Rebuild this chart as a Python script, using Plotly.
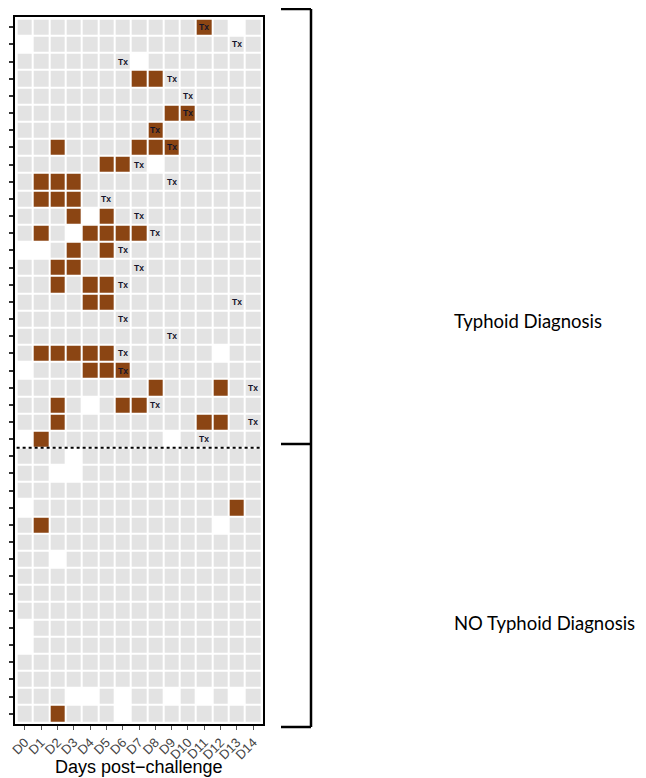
import numpy as np
import plotly.graph_objects as go

days = [f"D{i}" for i in range(15)]

# g = negative (grey), b = positive (brown), w = missing (white)
typhoid_rows = [
    "gggggggggggbgwg",
    "wgggggggggggggg",
    "gggggggwggggggg",
    "gggggggbbgggggg",
    "ggggggggggggggg",
    "gggggggggbbgggg",
    "ggggggggbgggggg",
    "ggbggggbbbggggg",
    "gggggbbgwgggggg",
    "gbbbggggggggggg",
    "gbbbggggggggggg",
    "gggbwbggggggggg",
    "gbgwbbbbggggggg",
    "wwgbgbggggggggg",
    "ggbbggggggggggg",
    "ggbgbbggggggggg",
    "ggggbbggggggggg",
    "ggggggggggggggg",
    "ggggggggggggggg",
    "gbbbbbggggggwgg",
    "wgggbbbgggggggg",
    "ggggggggbgggbgg",
    "ggbgwgbbggggggg",
    "ggbggggggggbbgg",
    "wbgggggggwggggg",
]
# day index of treatment (Tx) for each typhoid row
tx_day = [11, 13, 6, 9, 10, 10, 8, 9, 7, 9, 5, 7, 8, 6, 7, 6, 13, 6, 9, 6, 6, 14, 8, 14, 11]

no_typhoid_rows = [
    "gggwggggggggggg",
    "ggwwggggggggggg",
    "ggggggggggggggg",
    "wggggggggggggbg",
    "gbggggggggggwgg",
    "ggggggggggggggg",
    "ggwgggggggggggg",
    "ggggggggggggggg",
    "ggggggggggggggg",
    "ggggggggggggggg",
    "wgggggggggggggg",
    "wgggggggggggggg",
    "ggggggggggggggg",
    "ggggggggggggggg",
    "gggwwgwggwgwgwg",
    "ggbgggwgggggggg",
]

code = {"g": 0.0, "b": 1.0, "w": np.nan}
all_rows = typhoid_rows + no_typhoid_rows
z = [[code[c] for c in r] for r in all_rows]
text = [["" for _ in days] for _ in all_rows]
for i, d in enumerate(tx_day):
    text[i][d] = "Tx"
ys = list(range(len(all_rows)))

GREY = "#e3e3e3"
BROWN = "#8b4513"

fig = go.Figure(go.Heatmap(
    z=z, x=days, y=ys, text=text, texttemplate="<b>%{text}</b>",
    textfont=dict(size=8.5, color="#15152a", family="Liberation Sans"),
    colorscale=[[0, GREY], [0.5, GREY], [0.5, BROWN], [1, BROWN]],
    zmin=0, zmax=1, showscale=False, xgap=2, ygap=2, hoverinfo="skip",
))

# page body adds an 8px margin, so the figure is 8px smaller and offset
OFF = 8
W, H = 646 - OFF, 778 - OFF
def px(x): return (x - OFF) / W
def py(y): return 1 - (y - OFF) / H

fig.update_layout(
    width=W, height=H, margin=dict(l=0, r=0, t=0, b=0),
    paper_bgcolor="white", plot_bgcolor="white", showlegend=False,
    xaxis=dict(domain=[px(15), px(263)], range=[-0.6, 14.6], automargin=False,
               showline=True, mirror=True, linecolor="black", linewidth=1.5,
               showgrid=False, zeroline=False, ticks="outside", ticklen=4,
               tickcolor="#555", tickangle=-45,
               tickfont=dict(family="Liberation Sans", size=13, color="#444444")),
    yaxis=dict(domain=[py(724), py(17)], range=[len(all_rows) - 0.4, -0.6],
               automargin=False, showline=True, mirror=True, linecolor="black",
               linewidth=1.5, showgrid=False, zeroline=False, ticks="outside",
               ticklen=4, tickwidth=1.5, tickcolor="#333", tickvals=ys,
               showticklabels=False),
)

n_typ = len(typhoid_rows)
shapes = [
    dict(type="line", xref="x", yref="y", x0=-0.5, x1=14.5, y0=n_typ - 0.5, y1=n_typ - 0.5,
         line=dict(color="black", width=2, dash="dot")),
]
bx0, bx1 = px(281), px(311)
for yv in [9, 444, 727]:
    shapes.append(dict(type="line", xref="paper", yref="paper", x0=bx0, x1=bx1,
                       y0=py(yv), y1=py(yv), line=dict(color="black", width=2.5)))
shapes.append(dict(type="line", xref="paper", yref="paper", x0=bx1, x1=bx1,
                   y0=py(9), y1=py(727), line=dict(color="black", width=2.5)))
fig.update_layout(shapes=shapes)

fig.add_annotation(text="Typhoid Diagnosis", xref="paper", yref="paper", x=px(452), y=py(321),
                   xanchor="left", yanchor="middle", showarrow=False,
                   font=dict(family="Lato", size=18.5, color="black"))
fig.add_annotation(text="NO Typhoid Diagnosis", xref="paper", yref="paper", x=px(452), y=py(623),
                   xanchor="left", yanchor="middle", showarrow=False,
                   font=dict(family="Lato", size=18.5, color="black"))
fig.add_annotation(text="Days post\u2212challenge", xref="paper", yref="paper", x=px(139), y=py(767),
                   xanchor="center", yanchor="middle", showarrow=False,
                   font=dict(family="Liberation Sans", size=18, color="black"))

fig.write_html("out.html")
